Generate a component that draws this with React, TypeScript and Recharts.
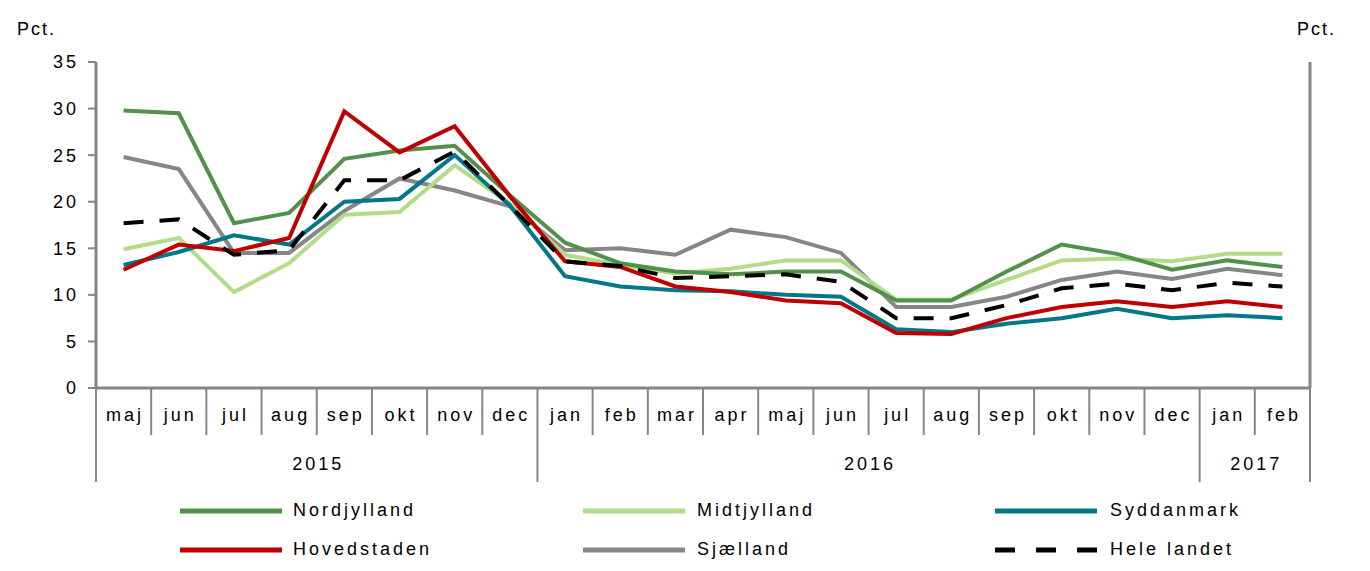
import { LineChart, Line, XAxis, YAxis, Legend } from "recharts";

const months = ["maj", "jun", "jul", "aug", "sep", "okt", "nov", "dec", "jan", "feb", "mar", "apr", "maj", "jun", "jul", "aug", "sep", "okt", "nov", "dec", "jan", "feb"];
const years = [
  { label: "2015", start: 0, span: 8 },
  { label: "2016", start: 8, span: 12 },
  { label: "2017", start: 20, span: 2 },
];
const yTicks = [0, 5, 10, 15, 20, 25, 30, 35];

const nordjylland = [29.8, 29.5, 17.7, 18.8, 24.6, 25.5, 26.0, 20.7, 15.6, 13.4, 12.5, 12.2, 12.5, 12.5, 9.4, 9.4, 12.5, 15.4, 14.4, 12.7, 13.7, 13.0];
const midtjylland = [14.9, 16.1, 10.3, 13.4, 18.6, 18.9, 23.9, 19.8, 14.3, 13.2, 12.3, 12.8, 13.7, 13.7, 9.5, 9.5, 11.6, 13.7, 13.9, 13.6, 14.4, 14.4];
const syddanmark = [13.2, 14.6, 16.4, 15.4, 20.0, 20.3, 25.0, 19.6, 12.0, 10.9, 10.5, 10.4, 10.0, 9.8, 6.3, 6.0, 6.9, 7.5, 8.5, 7.5, 7.8, 7.5];
const hovedstaden = [12.7, 15.4, 14.7, 16.1, 29.7, 25.3, 28.1, 20.6, 13.6, 13.0, 10.9, 10.3, 9.4, 9.1, 5.9, 5.8, 7.5, 8.7, 9.3, 8.7, 9.3, 8.7];
const sjaelland = [24.8, 23.5, 14.5, 14.5, 19.0, 22.5, 21.2, 19.5, 14.8, 15.0, 14.3, 17.0, 16.2, 14.5, 8.7, 8.7, 9.8, 11.6, 12.5, 11.7, 12.8, 12.1];
const heleLandet = [17.7, 18.1, 14.3, 14.8, 22.3, 22.3, 25.4, 19.6, 13.6, 13.1, 11.8, 12.0, 12.2, 11.4, 7.5, 7.5, 8.9, 10.7, 11.2, 10.5, 11.3, 10.9];

const series = [
  { key: "Sjælland", values: sjaelland, color: "#868686", dash: undefined as string | undefined },
  { key: "Midtjylland", values: midtjylland, color: "#b2dc88", dash: undefined },
  { key: "Nordjylland", values: nordjylland, color: "#52904c", dash: undefined },
  { key: "Syddanmark", values: syddanmark, color: "#00788a", dash: undefined },
  { key: "Hovedstaden", values: hovedstaden, color: "#c00000", dash: undefined },
  { key: "Hele landet", values: heleLandet, color: "#000000", dash: "20 16" },
];

// legend order as in the reference (row by row)
const legendOrder = ["Nordjylland", "Midtjylland", "Syddanmark", "Hovedstaden", "Sjælland", "Hele landet"];

const data = months.map((m, i) => {
  const row: Record<string, string | number> = { month: m, idx: i };
  series.forEach((s) => (row[s.key] = s.values[i]));
  return row;
});

const W = 1370;
const H = 571;
const PLOT_L = 96;
const PLOT_R = 1310;
const CAT_W = (PLOT_R - PLOT_L) / months.length;
const HALF = CAT_W / 2;
const FONT = "'Liberation Sans', Arial, sans-serif";
const FS = 18;
const LS = 3;
const AXIS = "#868686";

function MonthTick(props: any) {
  const { x, y, index } = props;
  const last = index === months.length - 1;
  const yearStart = years.find((yr) => yr.start === index);
  return (
    <g>
      <line x1={x - HALF} x2={x - HALF} y1={y} y2={yearStart ? y + 94 : y + 47} stroke={AXIS} strokeWidth={2} />
      {last && <line x1={x + HALF} x2={x + HALF} y1={y} y2={y + 94} stroke={AXIS} strokeWidth={2} />}
      <text x={x + LS / 2} y={y + 33} textAnchor="middle" fontSize={FS} letterSpacing={LS} fontFamily={FONT} fill="#000">
        {months[index]}
      </text>
      {yearStart && (
        <text
          x={x - HALF + (yearStart.span * CAT_W) / 2 + LS / 2}
          y={y + 82}
          textAnchor="middle"
          fontSize={FS}
          letterSpacing={LS}
          fontFamily={FONT}
          fill="#000"
        >
          {yearStart.label}
        </text>
      )}
    </g>
  );
}

function LegendContent() {
  const cols = [
    { line: 180, text: 293 },
    { line: 583, text: 697 },
    { line: 995, text: 1110 },
  ];
  return (
    <div style={{ position: "relative", width: W, height: 80, fontFamily: FONT, fontSize: FS, letterSpacing: LS }}>
      {legendOrder.map((name, i) => {
        const s = series.find((x) => x.key === name)!;
        const col = cols[i % 3];
        const top = i < 3 ? 21 : 60;
        return (
          <div key={name}>
            <svg style={{ position: "absolute", left: col.line, top: top - 4 }} width={102} height={8}>
              <line x1={0} x2={102} y1={4} y2={4} stroke={s.color} strokeWidth={5} strokeDasharray={s.dash ? "20 21" : undefined} />
            </svg>
            <div style={{ position: "absolute", left: col.text, top: top - 11, lineHeight: "20px", color: "#000", whiteSpace: "nowrap" }}>
              {name}
            </div>
          </div>
        );
      })}
    </div>
  );
}

export default function App() {
  return (
    <div style={{ position: "absolute", left: 0, top: 0, width: W, height: H, background: "#fff" }}>
      <LineChart width={W} height={H} data={data} margin={{ top: 62, right: 0, bottom: 83, left: 0 }}>
        <XAxis
          dataKey="idx"
          height={100}
          interval={0}
          tickSize={0}
          tickMargin={0}
          tickLine={false}
          axisLine={{ stroke: AXIS, strokeWidth: 3 }}
          padding={{ left: HALF, right: HALF }}
          tick={<MonthTick />}
        />
        <YAxis
          yAxisId="left"
          width={PLOT_L}
          domain={[0, 35]}
          ticks={yTicks}
          interval={0}
          tickSize={8}
          tickMargin={9}
          axisLine={{ stroke: AXIS, strokeWidth: 3 }}
          tickLine={{ stroke: AXIS, strokeWidth: 2 }}
          tick={{ fill: "#000", fontSize: FS, fontFamily: FONT, letterSpacing: LS }}
          label={{
            value: "Pct.",
            content: ({ viewBox }: any) => (
              <text x={viewBox.x + 17} y={viewBox.y - 27} fontSize={FS} fontFamily={FONT} letterSpacing={2} fill="#000">
                Pct.
              </text>
            ),
          }}
        />
        <YAxis
          yAxisId="right"
          orientation="right"
          width={W - PLOT_R}
          domain={[0, 35]}
          ticks={yTicks}
          interval={0}
          tickSize={8}
          tickMargin={16}
          axisLine={{ stroke: AXIS, strokeWidth: 3 }}
          tickLine={{ stroke: AXIS, strokeWidth: 2 }}
          tick={{ fill: "#000", fontSize: FS, fontFamily: FONT, letterSpacing: LS }}
          label={{
            value: "Pct.",
            content: ({ viewBox }: any) => (
              <text x={viewBox.x - 13} y={viewBox.y - 27} fontSize={FS} fontFamily={FONT} letterSpacing={2} fill="#000">
                Pct.
              </text>
            ),
          }}
        />
        {series.map((s) => (
          <Line
            key={s.key}
            yAxisId="left"
            type="linear"
            dataKey={s.key}
            stroke={s.color}
            strokeWidth={4}
            strokeDasharray={s.dash}
            dot={false}
            activeDot={false}
            isAnimationActive={false}
          />
        ))}
        <Legend
          layout="horizontal"
          verticalAlign="middle"
          align="center"
          wrapperStyle={{ top: 490, left: 0, width: W }}
          content={<LegendContent />}
        />
      </LineChart>
    </div>
  );
}
